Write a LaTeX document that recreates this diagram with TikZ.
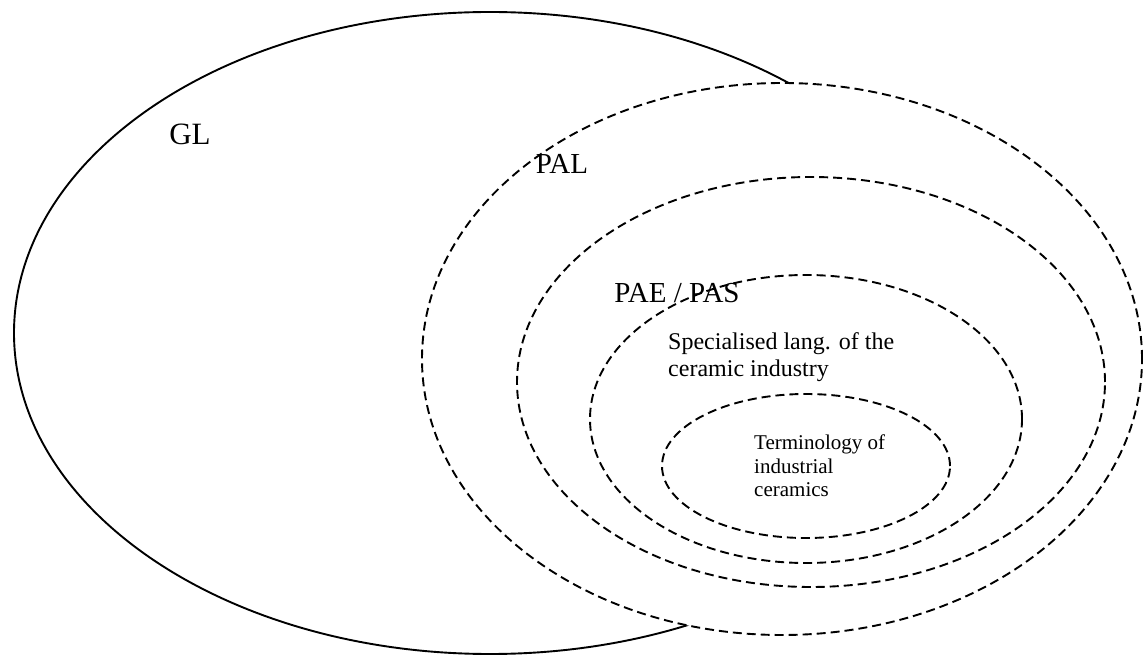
\documentclass[tikz,border=0pt]{standalone}
\usepackage{fontspec}
\setmainfont{Liberation Serif}
\begin{document}
\begin{tikzpicture}[x=1pt,y=1pt,
  solidring/.style={line width=1.9pt},
  dashring/.style={line width=1.9pt, dash pattern=on 9pt off 5pt},
  biglabel/.style={inner sep=0pt, font=\fontsize{31pt}{36pt}\selectfont},
  medlabel/.style={inner sep=0pt, font=\fontsize{29pt}{34pt}\selectfont},
  midlabel/.style={inner sep=0pt, align=left, anchor=north west,
    font=\fontsize{24pt}{27pt}\selectfont},
  smalllabel/.style={inner sep=0pt, align=left, anchor=north west,
    font=\fontsize{21pt}{23.5pt}\selectfont}]
\useasboundingbox (0,0) rectangle (1147,656);

% general language: solid outer ellipse
\draw[solidring] (490,323) ellipse [x radius=476, y radius=321];

% nested dashed ellipses; the outermost one hides the overlapped part of the solid one
\draw[dashring, fill=white] (782,297) ellipse [x radius=360, y radius=276];
\draw[dashring] (811,274) ellipse [x radius=294, y radius=205];
\draw[dashring] (806,237) ellipse [x radius=216, y radius=144];
\draw[dashring] (806,190) ellipse [x radius=144, y radius=72];

% labels
\node[biglabel] (gl) at (190,522) {GL};
\node[medlabel] (pal) at (562,492) {PAL};
\node[medlabel] (pae) at (677,363) {PAE / PAS};
\node[midlabel] (spec) at (668,324) {Specialised lang. of the\\ceramic industry};
\node[smalllabel] (term) at (754,221) {Terminology of\\industrial\\ceramics};
\end{tikzpicture}
\end{document}
